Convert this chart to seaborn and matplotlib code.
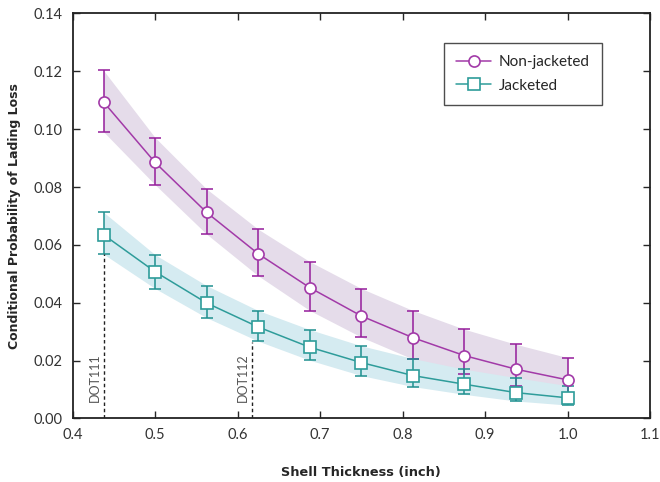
import numpy as np
import pandas as pd
import matplotlib
matplotlib.use("Agg")
import matplotlib.pyplot as plt
import seaborn as sns

# shell thickness (inch)
thickness = [0.4375, 0.5, 0.5625, 0.625, 0.6875, 0.75, 0.8125, 0.875, 0.9375, 1.0]

# non-jacketed tank cars
nonjk_mean = [0.1094, 0.0885, 0.0712, 0.0569, 0.0452, 0.0354, 0.0279, 0.0217, 0.0170, 0.0133]
nonjk_low = [0.0991, 0.0808, 0.0637, 0.0493, 0.0373, 0.0281, 0.0205, 0.0155, 0.0112, 0.0085]
nonjk_high = [0.1203, 0.0971, 0.0793, 0.0654, 0.0542, 0.0449, 0.0373, 0.0308, 0.0256, 0.0210]

# jacketed tank cars
jk_mean = [0.0635, 0.0507, 0.0399, 0.0316, 0.0246, 0.0193, 0.0148, 0.0118, 0.0089, 0.0071]
jk_low = [0.0568, 0.0449, 0.0348, 0.0267, 0.0201, 0.0148, 0.0110, 0.0083, 0.0060, 0.0046]
jk_high = [0.0713, 0.0566, 0.0459, 0.0373, 0.0307, 0.0251, 0.0207, 0.0170, 0.0141, 0.0113]

# DOT specification thickness markers
dot_names = ["DOT111", "DOT112"]
dot_x = [0.4375, 0.618]
dot_top = [0.0568, 0.0265]

purple = "#a23aa8"
purple_dark = "#951d9b"
purple_band = "#e5dcea"
teal = "#2e9c9a"
teal_dark = "#1f908f"
teal_band = "#d5ebf1"

sns.set_theme(style="ticks")
plt.rcParams["font.family"] = ["Lato", "DejaVu Sans"]

fig, ax = plt.subplots(figsize=(6.6, 4.82), dpi=100)
fig.subplots_adjust(left=0.11, right=0.985, bottom=0.132, top=0.972)

# uncertainty bands
ax.fill_between(thickness, nonjk_low, nonjk_high, color=purple_band, lw=0, zorder=1)
ax.fill_between(thickness, jk_low, jk_high, color=teal_band, lw=0, zorder=1.1)

series = [
    ("Non-jacketed", nonjk_mean, nonjk_low, nonjk_high, purple, purple_dark, "o"),
    ("Jacketed", jk_mean, jk_low, jk_high, teal, teal_dark, "s"),
]

for label, mean, lo, hi, col, ecol, mk in series:
    m = np.array(mean)
    yerr = [m - np.array(lo), np.array(hi) - m]
    ax.errorbar(thickness, m, yerr=yerr, fmt="none", ecolor=ecol,
                elinewidth=1.1, capsize=4.5, capthick=1.1, zorder=2)
    d = pd.DataFrame({"x": thickness, "y": mean})
    sns.lineplot(data=d, x="x", y="y", color=col, marker=mk, markersize=8,
                 markerfacecolor="white", markeredgecolor=col,
                 markeredgewidth=1.2, linewidth=1.1, label=label, ax=ax, zorder=3)

# DOT reference lines
for name, xv, top in zip(dot_names, dot_x, dot_top):
    ax.vlines(xv, 0, top, colors="#222222", linestyles=(0, (2.5, 2)), lw=1.0, zorder=2)
    ax.text(xv - 0.011, 0.0142, name, rotation=90, ha="center", va="center",
            fontsize=9, color="#555555")

ax.set_xlim(0.4, 1.1)
ax.set_ylim(0, 0.14)
ax.set_xticks([0.4, 0.5, 0.6, 0.7, 0.8, 0.9, 1.0, 1.1])
ax.set_xticklabels(["0.4", "0.5", "0.6", "0.7", "0.8", "0.9", "1.0", "1.1"])
ax.set_yticks(np.arange(0, 0.141, 0.02))
ax.set_yticklabels(["0.00", "0.02", "0.04", "0.06", "0.08", "0.10", "0.12", "0.14"])
ax.tick_params(direction="in", length=5, width=1, top=True, right=True,
               labelsize=10.5, labelcolor="#333333", pad=7)
for sp in ax.spines.values():
    sp.set_linewidth(1.3)
    sp.set_color("#222222")

ax.set_xlabel("Shell Thickness (inch)", fontsize=9.3, fontweight="bold",
              family="DejaVu Sans", labelpad=17)
ax.set_ylabel("Conditional Probability of Lading Loss", fontsize=9,
              fontweight="bold", family="DejaVu Sans", labelpad=9)

leg = ax.legend(loc="upper right", bbox_to_anchor=(0.917, 0.928),
                borderaxespad=0, frameon=True, fancybox=False,
                edgecolor="#222222", fontsize=11, handlelength=2.3,
                handletextpad=0.5, borderpad=0.8, labelspacing=0.65)
leg.get_frame().set_linewidth(1.0)

fig.savefig("out.png", dpi=100)
